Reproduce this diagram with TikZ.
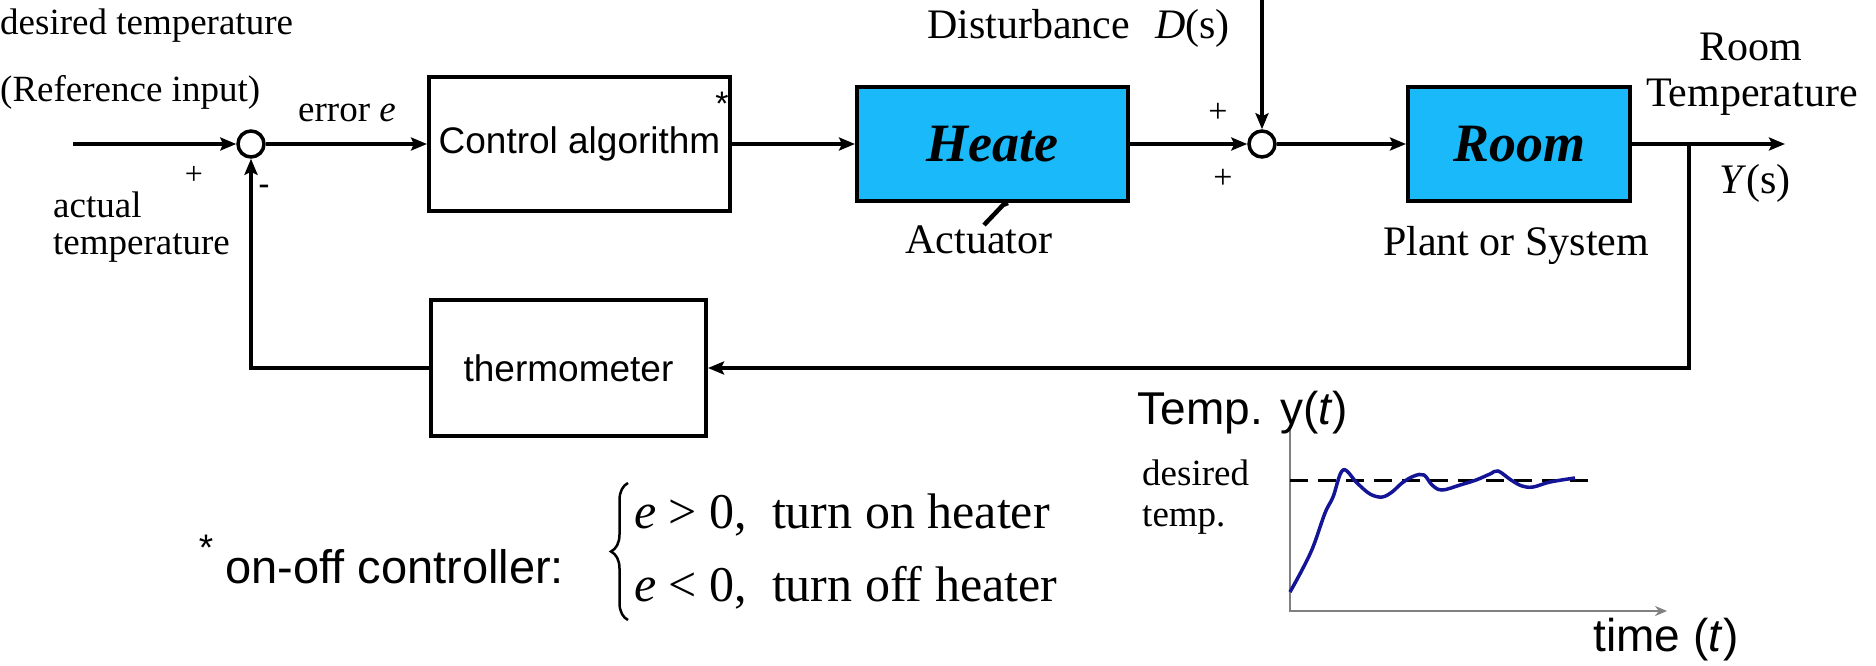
\documentclass[tikz,border=0pt]{standalone}
\usepackage{fontspec}
\setmainfont{Liberation Serif}
\setsansfont{Liberation Sans}
\usetikzlibrary{arrows.meta,decorations.pathreplacing}
\definecolor{blockblue}{RGB}{26,186,250}
\definecolor{curveblue}{RGB}{20,20,150}
\definecolor{axisgray}{RGB}{128,128,128}
\newcommand{\fsz}[1]{\fontsize{#1}{#1}\selectfont}

\begin{document}
\begin{tikzpicture}[x=1pt, y=-1pt,
    block/.style={draw, line width=4pt, inner sep=0pt, font=\sffamily\fsz{37}},
    bluebox/.style={block, fill=blockblue, font=\bfseries\itshape\fsz{54}},
    sumpoint/.style={draw, circle, line width=3.5pt, minimum size=26pt, inner sep=0pt},
    sig/.style={line width=4pt, -{Stealth[length=16pt, width=13pt, inset=3pt]}},
    lbl/.style={inner sep=0pt, font=\fsz{37}},
    biglbl/.style={inner sep=0pt, font=\fsz{42}},
    sanslbl/.style={inner sep=0pt, font=\sffamily\fsz{46}}]
\useasboundingbox (0,0) rectangle (1876,665);
% Blocks
\node[block, minimum width=301pt, minimum height=134pt] (ctrl) at (579.5,144) {Control algorithm};
\node[inner sep=0pt, font=\sffamily\fsz{34}] (ctrlstar) at (722,104) {*};
\node[bluebox, minimum width=271pt, minimum height=114pt] (heater) at (992.5,144) {Heate};
\node[bluebox, minimum width=222pt, minimum height=114pt] (room) at (1519,144) {Room};
\node[block, minimum width=275pt, minimum height=136pt] (thermo) at (568.5,368) {thermometer};
% Summing points
\node[sumpoint] (sum1) at (251,144) {};
\node[sumpoint] (sum2) at (1262,144) {};
% Free ends
\coordinate (ref) at (73,144);
\coordinate (dist) at (1262,0);
\coordinate (out) at (1785,144);
\coordinate (branch) at (1689,144);
% Signals
\draw[sig] (ref) -- (sum1);
\draw[sig] (sum1) -- (ctrl);
\draw[sig] (ctrl) -- (heater);
\draw[sig] (heater) -- (sum2);
\draw[sig] (dist) -- (sum2);
\draw[sig] (sum2) -- (room);
\draw[sig] (room) -- (out);
\draw[sig] (branch) |- (thermo);
\draw[sig] (thermo) -| (sum1);
% Left-hand labels
\node[lbl, anchor=west] (desired) at (0,26) {desired temperature};
\node[lbl, anchor=west] (refin) at (0,92) {(Reference input)};
\node[lbl, anchor=west] (actual) at (53,205) {actual};
\node[lbl, anchor=west] (actualtemp) at (53,248) {temperature};
\node[inner sep=0pt, font=\fsz{32}] (plus1) at (194,175) {+};
\node[inner sep=0pt, font=\sffamily\fsz{34}] (minus1) at (264,190) {-};
\node[lbl] (error) at (347,113) {error \textit{e}};
% Middle labels
\node[biglbl, anchor=west] (distlabel) at (927,28) {Disturbance\hspace{0.6em}\textit{D}(s)};
\node[inner sep=0pt, font=\fsz{34}] (plus2) at (1218,113) {+};
\node[inner sep=0pt, font=\fsz{34}] (plus3) at (1223,179) {+};
\draw[line width=4.5pt] (984,225) -- (1003,205) -- (1008,203);
\node[biglbl] (actuator) at (979,240) {Actuator};
\node[biglbl] (plant) at (1516,245) {Plant or System};
% Right-hand labels
\node[biglbl] (roomlbl) at (1751,47) {Room};
\node[biglbl] (templbl) at (1752,97) {Temperature};
\node[biglbl] (ylbl) at (1755,183) {\textit{Y}(s)};
% On-off note
\node[inner sep=0pt, font=\sffamily\fsz{37}] (notestar) at (206,548) {*};
\node[inner sep=0pt, anchor=west, font=\sffamily\fsz{47}] (onoff) at (225,567) {on-off controller:};
\draw[decorate, decoration={brace, amplitude=17pt}, line width=2.5pt] (628,620) -- (628,483);
\node[inner sep=0pt, anchor=west, font=\fsz{50}] (caseon) at (634,515) {\textit{e}\hspace{0.25em}>\hspace{0.25em}0,\enspace turn on heater};
\node[inner sep=0pt, anchor=west, font=\fsz{50}] (caseoff) at (634,588) {\textit{e}\hspace{0.25em}<\hspace{0.25em}0,\enspace turn off heater};
% Response plot
\draw[axisgray, line width=2pt] (1290,430) -- (1290,611);
\draw[axisgray, line width=2pt, -{Stealth[length=12pt, width=10pt]}] (1289,611) -- (1667,611);
\draw[line width=3pt, dash pattern=on 18pt off 10pt] (1290,480) -- (1597,480);
\draw[curveblue, line width=3.5pt] plot[smooth, tension=0.6] coordinates {(1290,592) (1302,570) (1313,547) (1325,513) (1333,497) (1343,470) (1357,483) (1370,494) (1382,497) (1392,492) (1402,483) (1414,476) (1424,475) (1432,485) (1442,490) (1460,485) (1476,480) (1490,474) (1498,471) (1511,480) (1522,486) (1533,487) (1550,482) (1575,478)};
\node[sanslbl] (templot) at (1243,413) {Temp. y(\textit{t})};
\node[lbl, anchor=west] (desiredplot) at (1142,473) {desired};
\node[lbl, anchor=west] (tempplot) at (1142,520) {temp.};
\node[sanslbl] (timeplot) at (1666,640) {time (\textit{t})};
\end{tikzpicture}
\end{document}
